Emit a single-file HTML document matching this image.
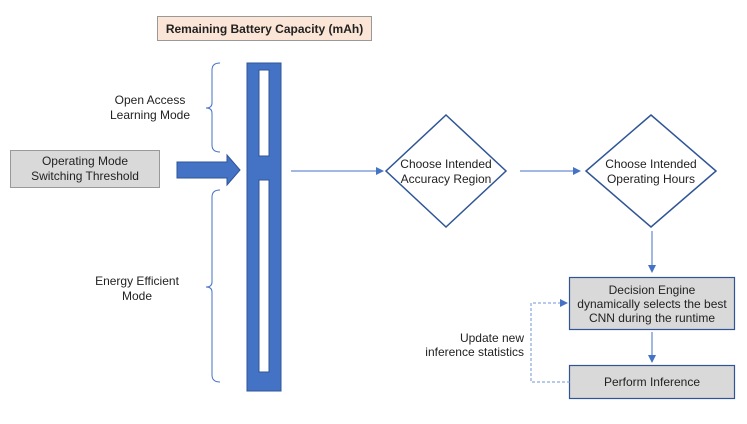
<!DOCTYPE html>
<html><head><style>
body{margin:0;background:#fff;}
svg text{font-family:"Liberation Sans",Arial,sans-serif;font-size:12px;fill:#222;}
</style></head><body>
<svg width="747" height="419" viewBox="0 0 747 419" xmlns="http://www.w3.org/2000/svg">
<defs>
<marker id="a" markerWidth="8" markerHeight="8" refX="7" refY="4" orient="auto" markerUnits="userSpaceOnUse"><path d="M0,0 L8,4 L0,8 z" fill="#4472c4"/></marker>
</defs>
<rect x="157.5" y="16.5" width="214" height="24" fill="#fbe5d6" stroke="#999"/>
<text x="264.5" y="33" text-anchor="middle" style="font-weight:bold">Remaining Battery Capacity (mAh)</text>
<rect x="10.5" y="150.5" width="149" height="37" fill="#d9d9d9" stroke="#999"/>
<text x="85" y="165" text-anchor="middle">Operating Mode</text>
<text x="85" y="180" text-anchor="middle">Switching Threshold</text>
<path d="M177,162 H227 V155 L240,170 L227,185 V178 H177 z" fill="#4472c4" stroke="#2f5597"/>
<rect x="247" y="63" width="34" height="328" fill="#4472c4" stroke="#2f5597"/>
<rect x="259" y="70" width="10" height="86" fill="#fff" stroke="#2f5597"/>
<rect x="259" y="180" width="10" height="192" fill="#fff" stroke="#2f5597"/>
<path d="M220,63 Q212,63 212,70 V103 Q212,108 206,108 Q212,108 212,113 V145 Q212,152 220,152" fill="none" stroke="#4472c4"/>
<path d="M220,190 Q212,190 212,197 V282 Q212,287 206,287 Q212,287 212,292 V375 Q212,382 220,382" fill="none" stroke="#4472c4"/>
<text x="150" y="104" text-anchor="middle">Open Access</text>
<text x="150" y="119" text-anchor="middle">Learning Mode</text>
<text x="137" y="285" text-anchor="middle">Energy Efficient</text>
<text x="137" y="300" text-anchor="middle">Mode</text>
<line x1="291" y1="171" x2="383" y2="171" stroke="#4472c4" marker-end="url(#a)"/>
<path d="M446,115 L506,171 L446,227 L386,171 z" fill="#fff" stroke="#2f5597" stroke-width="1.5"/>
<text x="446" y="168" text-anchor="middle">Choose Intended</text>
<text x="446" y="183" text-anchor="middle">Accuracy Region</text>
<line x1="520" y1="171" x2="580" y2="171" stroke="#4472c4" marker-end="url(#a)"/>
<path d="M651,115 L716,171 L651,227 L586,171 z" fill="#fff" stroke="#2f5597" stroke-width="1.5"/>
<text x="651" y="168" text-anchor="middle">Choose Intended</text>
<text x="651" y="183" text-anchor="middle">Operating Hours</text>
<line x1="652" y1="231" x2="652" y2="272" stroke="#4472c4" marker-end="url(#a)"/>
<rect x="569.5" y="277.5" width="165" height="52" fill="#d9d9d9" stroke="#2f5597" stroke-width="1.2"/>
<text x="652" y="294" text-anchor="middle">Decision Engine</text>
<text x="652" y="308" text-anchor="middle">dynamically selects the best</text>
<text x="652" y="322" text-anchor="middle">CNN during the runtime</text>
<line x1="652" y1="332" x2="652" y2="362" stroke="#4472c4" marker-end="url(#a)"/>
<rect x="569.5" y="365.5" width="165" height="33" fill="#d9d9d9" stroke="#2f5597" stroke-width="1.2"/>
<text x="652" y="386" text-anchor="middle">Perform Inference</text>
<path d="M570,382 H531 V303 H567" fill="none" stroke="#6f95d6" stroke-dasharray="3,2" marker-end="url(#a)"/>
<text x="524" y="342" text-anchor="end">Update new</text>
<text x="524" y="356" text-anchor="end">inference statistics</text>
</svg>
</body></html>
